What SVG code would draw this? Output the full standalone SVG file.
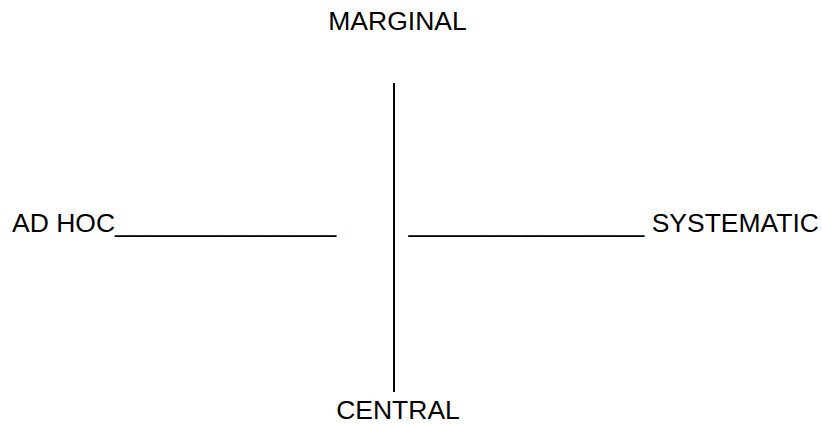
<svg xmlns="http://www.w3.org/2000/svg" width="822" height="424" viewBox="0 0 822 424">
<style>
.t{font-family:"Liberation Sans",Arial,sans-serif;font-size:26.5px;fill:#000}
.ax{stroke:#000;stroke-width:2;fill:none}
</style>
<rect width="822" height="424" fill="#fff"/>
<g id="connectors">
<line class="ax" x1="394" y1="83" x2="394" y2="392"/>
</g>
<g id="marginal"><text class="t" x="397.5" y="30" text-anchor="middle">MARGINAL</text></g>
<g id="central"><text class="t" x="398" y="418.5" text-anchor="middle">CENTRAL</text></g>
<g id="adhoc"><text class="t" x="12" y="231.5">AD HOC_______________</text></g>
<g id="systematic"><text class="t" x="819" y="231.5" text-anchor="end">________________ SYSTEMATIC</text></g>
</svg>
